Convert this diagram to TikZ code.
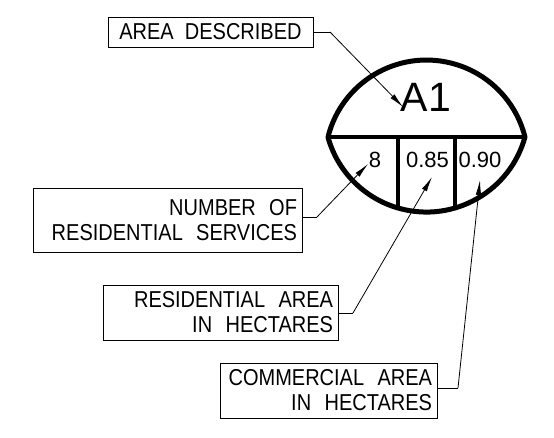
\documentclass[tikz,border=0pt]{standalone}
\usepackage{fontspec}
\setmainfont{Liberation Sans}
\usetikzlibrary{arrows.meta}
\newcommand\talltext[1]{\scalebox{1}[1.15]{#1}}
\begin{document}
\begin{tikzpicture}[x=1pt,y=1pt,
  lbl/.style={draw, line width=0.8pt, inner ysep=0pt, inner xsep=5pt, font=\fontsize{20}{25}\selectfont},
  leader/.style={line width=0.8pt},
  leaderarrow/.style={line width=0.8pt, -{Latex[length=15pt,width=5.5pt]}},
  lens/.style={line width=5pt, line join=round},
  divider/.style={line width=4pt},
  val/.style={font=\fontsize{22}{22}\selectfont, inner sep=0pt}]
\useasboundingbox (0,0) rectangle (554,438);
% lens
\coordinate (L) at (328,301);
\coordinate (R) at (525,301);
\begin{scope}
  \clip (L) arc[start angle=166, end angle=14, radius=101.5] arc[start angle=-15.4, end angle=-164.6, radius=102.2] -- cycle;
  \draw[divider] (398,301) -- (398,200);
  \draw[divider] (455,301) -- (455,200);
\end{scope}
\draw[divider] (L) -- (R);
\draw[lens] (L) arc[start angle=166, end angle=14, radius=101.5] arc[start angle=-15.4, end angle=-164.6, radius=102.2] -- cycle;
% values
\node[font=\fontsize{41}{41}\selectfont, inner sep=0pt] (a1) at (426,341) {A1};
\node[val] (v8) at (375,278) {8};
\node[val] (v85) at (427.5,278) {0.85};
\node[val] (v90) at (480,278) {0.90};
% label boxes
\node[lbl, minimum width=205pt, minimum height=30pt] (area) at (210.5,406) {\talltext{AREA\ \ DESCRIBED}};
\node[lbl, minimum width=269pt, minimum height=64pt, text width=259pt, align=right] (num) at (167.5,218) {\talltext{NUMBER\ \ OF}\\\talltext{RESIDENTIAL\ \ SERVICES}};
\node[lbl, minimum width=235pt, minimum height=55pt, text width=225pt, align=right] (res) at (220.5,125.5) {\talltext{RESIDENTIAL\ \ AREA}\\\talltext{IN\ \ HECTARES}};
\node[lbl, minimum width=217pt, minimum height=55pt, text width=207pt, align=right] (com) at (328.5,47.5) {\talltext{COMMERCIAL\ \ AREA}\\\talltext{IN\ \ HECTARES}};
% leaders
\coordinate (areaK) at (330,406);
\coordinate (areaT) at (403,331);
\coordinate (numK) at (317,221);
\coordinate (numT) at (368,274);
\coordinate (resK) at (353,125);
\coordinate (resT) at (432,261);
\coordinate (comK) at (458,50);
\coordinate (comT) at (480,258);
\draw[leader] (area.east) -- (areaK);
\draw[leaderarrow] (areaK) -- (areaT);
\draw[leader] (num.east |- numK) -- (numK);
\draw[leaderarrow] (numK) -- (numT);
\draw[leader] (res.east |- resK) -- (resK);
\draw[leaderarrow] (resK) -- (resT);
\draw[leader] (com.east |- comK) -- (comK);
\draw[leaderarrow] (comK) -- (comT);
\end{tikzpicture}
\end{document}
